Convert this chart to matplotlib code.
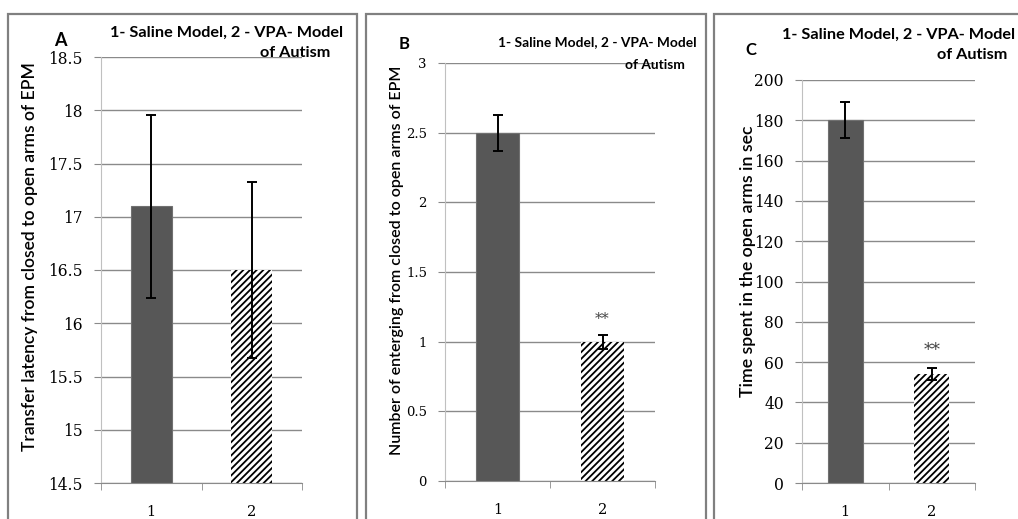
import numpy as np
import matplotlib.pyplot as plt
from matplotlib.patches import Rectangle

W, H = 1018, 519

groups = ['1', '2']
latency = [17.1, 16.5]
latency_err = [0.86, 0.83]
entries = [2.5, 1.0]
entries_err = [0.13, 0.05]
open_time = [180, 54]
open_time_err = [9, 3]

title_1 = '1- Saline Model, 2 - VPA- Model'
title_2 = 'of Autism'

plt.rcParams['hatch.linewidth'] = 1.3
fig = plt.figure(figsize=(W / 100, H / 100), dpi=100)


def px(x, y):
    # pixel position (from the top-left corner) to figure fraction
    return x / W, 1 - y / H


def frame(x0, x1):
    l, _ = px(x0, 0)
    r, _ = px(x1, 0)
    _, t = px(0, 14)
    fig.add_artist(Rectangle((l, -0.05), r - l, t + 0.05, transform=fig.transFigure,
                             fill=False, edgecolor='#808080', linewidth=1.6))


def panel(box, values, errs, ylim, step, tick_size, stars=None):
    x0, y0, x1, y1 = box
    l, b = px(x0, y1)
    r, t = px(x1, y0)
    ax = fig.add_axes([l, b, r - l, t - b])
    x = np.arange(1, len(values) + 1)
    heights = [v - ylim[0] for v in values]
    ax.bar(x[0], heights[0], width=0.41, bottom=ylim[0], color='#575757',
           edgecolor='#707070', linewidth=0.8, zorder=2)
    ax.bar(x[1], heights[1], width=0.41, bottom=ylim[0], color='white',
           edgecolor='black', linewidth=0, hatch='/////', zorder=2)
    ax.errorbar(x, values, yerr=errs, fmt='none', ecolor='black', elinewidth=1.4,
                capsize=3.6, capthick=1.4, zorder=3)
    if stars is not None:
        ax.text(x[1], stars, '**', ha='center', va='center', fontsize=tick_size + 1,
                family='DejaVu Serif', color='#444444')
    ax.set_xlim(0.5, 2.5)
    ax.set_ylim(*ylim)
    yt = np.arange(ylim[0], ylim[1] + step / 2, step)
    ax.set_yticks(yt)
    ax.set_yticklabels([f'{v:g}' for v in yt], family='DejaVu Serif', fontsize=tick_size)
    ax.grid(axis='y', color='#8a8a8a', linewidth=1.0, zorder=0)
    ax.set_axisbelow(True)
    ax.set_xticks(x)
    ax.set_xticklabels(groups, family='DejaVu Serif', fontsize=10.5)
    ax.set_xticks([0.5, 1.5, 2.5], minor=True)
    ax.tick_params(axis='x', which='major', length=0, pad=16)
    ax.tick_params(axis='x', which='minor', length=5, color='#8a8a8a')
    ax.tick_params(axis='y', length=5, color='#8a8a8a', pad=8)
    for s in ('top', 'right'):
        ax.spines[s].set_visible(False)
    ax.spines['left'].set_color('#c0c0c0')
    ax.spines['bottom'].set_color('#8a8a8a')
    return ax


frame(8, 357)
frame(366, 706)
frame(714, 1030)

panel((101, 57, 302, 483), latency, latency_err, (14.5, 18.5), 0.5, 11.2)
panel((445, 63, 655, 481), entries, entries_err, (0, 3), 0.5, 9.5, stars=1.16)
panel((802, 80, 975, 483), open_time, open_time_err, (0, 200), 20, 11.2, stars=66)

# y-axis titles
fig.text(*px(30, 257), 'Transfer latency from closed to open arms of EPM', rotation=90,
         ha='center', va='center', family='Lato', fontsize=12.6, fontweight='semibold')
fig.text(*px(397, 260), 'Number of enterging from closed to open arms of EPM', rotation=90,
         ha='center', va='center', family='Lato', fontsize=11.5, fontweight='semibold')
fig.text(*px(748, 261), 'Time spent in the open arms in sec', rotation=90,
         ha='center', va='center', family='Lato', fontsize=12.8, fontweight='semibold')

# panel letters
fig.text(*px(60, 40), 'A', ha='center', va='center', family='Lato', fontsize=13,
         fontweight='bold')
fig.text(*px(404, 44), 'B', ha='center', va='center', family='Lato', fontsize=12,
         fontweight='bold')
fig.text(*px(751, 50), 'C', ha='center', va='center', family='Lato', fontsize=12,
         fontweight='bold')

# chart titles
fig.text(*px(110, 33), title_1, ha='left', va='center', family='Lato',
         fontweight='bold', fontsize=11.7)
fig.text(*px(330, 53), title_2, ha='right', va='center', family='Lato',
         fontweight='bold', fontsize=11.7)
fig.text(*px(498, 42), title_1, ha='left', va='center', family='Lato',
         fontweight='bold', fontsize=9.9)
fig.text(*px(685, 65), title_2, ha='right', va='center', family='Lato',
         fontweight='bold', fontsize=9.9)
fig.text(*px(782, 35), title_1, ha='left', va='center', family='Lato',
         fontweight='bold', fontsize=11.7)
fig.text(*px(1007, 55), title_2, ha='right', va='center', family='Lato',
         fontweight='bold', fontsize=11.7)

fig.savefig('out.png', dpi=100, facecolor='white')
